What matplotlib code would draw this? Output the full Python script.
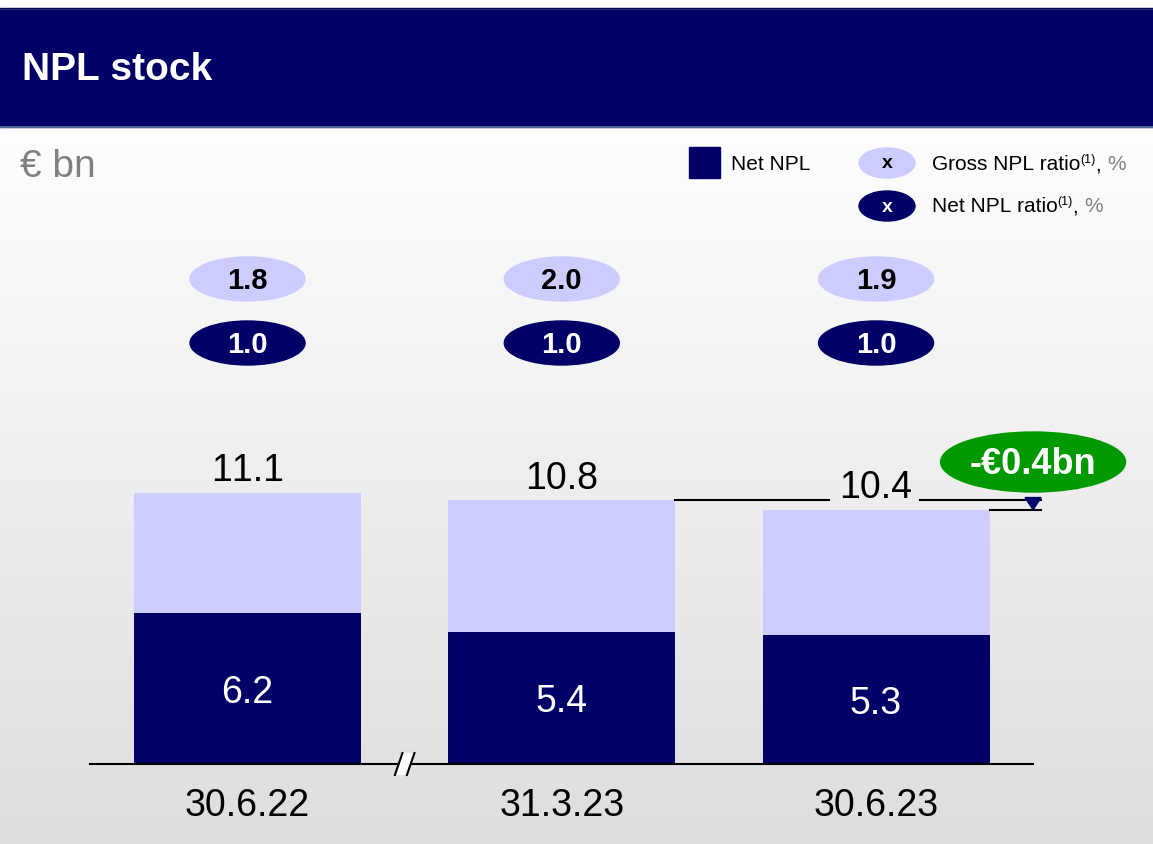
import numpy as np
import matplotlib
matplotlib.use("Agg")
import matplotlib.pyplot as plt
from matplotlib.patches import Ellipse, Rectangle, Polygon
from matplotlib.transforms import blended_transform_factory

plt.rcParams['font.family'] = ['Liberation Sans', 'DejaVu Sans']
plt.rcParams['text.kerning_factor'] = 10

# ---- data ----
categories = ["30.6.22", "31.3.23", "30.6.23"]
gross_npl = [11.1, 10.8, 10.4]
net_npl = [6.2, 5.4, 5.3]
gross_ratio = ["1.8", "2.0", "1.9"]
net_ratio = ["1.0", "1.0", "1.0"]
delta_label = "-€0.4bn"
title = "NPL stock"
unit = "€ bn"

NAVY = "#000066"
LIGHT = "#ccccff"
GREEN = "#009900"

W, H = 1153, 844
fig = plt.figure(figsize=(W / 100, H / 100), dpi=100)

# background gradient
bg = fig.add_axes([0, 0, 1, 1])
bg.set_xlim(0, W)
bg.set_ylim(H, 0)
bg.axis('off')
grad = np.linspace(1.0, 0.0, 256).reshape(-1, 1)
top_c = np.array([0.995, 0.995, 0.995])
bot_c = np.array([0.87, 0.87, 0.87])
img = (grad[..., None] * top_c + (1 - grad[..., None]) * bot_c)
bg.imshow(img, extent=[0, W, H, 127], aspect='auto', zorder=0)
bg.add_patch(Rectangle((0, 0), W, 8, color='white', zorder=1))
bg.add_patch(Rectangle((0, 8), W, 119, color=NAVY, zorder=1))
bg.plot([0, W], [126.5, 126.5], color="#5a7aa0", lw=1.2, zorder=2)
bg.plot([0, W], [8.5, 8.5], color="#203060", lw=1.0, zorder=2)
bg.text(22, 70, title, color='white', fontsize=28, fontweight='bold', va='center', ha='left', zorder=3)
bg.text(20, 167, unit, color='#808080', fontsize=28, va='center', ha='left', zorder=3)

# legend
bg.add_patch(Rectangle((689, 147), 31, 31, color=NAVY, zorder=3))
bg.text(731, 164, "Net NPL", fontsize=15, va='center', ha='left', color='black', zorder=3)
bg.add_patch(Ellipse((887, 163), 56, 30, color=LIGHT, zorder=3))
bg.text(887, 164, "x", fontsize=14, fontweight='bold', va='center', ha='center', color='black', zorder=4)
bg.add_patch(Ellipse((887, 206), 56, 30, color=NAVY, zorder=3))
bg.text(887, 207, "x", fontsize=14, fontweight='bold', va='center', ha='center', color='white', zorder=4)

fig.canvas.draw()
renderer = fig.canvas.get_renderer()


def rich_label(x, y, base):
    t1 = bg.text(x, y, base, fontsize=15, va='center', ha='left', color='black', zorder=3)
    ext = t1.get_window_extent(renderer)
    x2 = x + ext.width
    t2 = bg.text(x2, y - 5, "(1)", fontsize=9, va='center', ha='left', color='black', zorder=3)
    ext2 = t2.get_window_extent(renderer)
    x3 = x2 + ext2.width
    t3 = bg.text(x3, y, ", ", fontsize=15, va='center', ha='left', color='black', zorder=3)
    ext3 = t3.get_window_extent(renderer)
    bg.text(x3 + ext3.width, y, "%", fontsize=15, va='center', ha='left', color='#808080', zorder=3)


rich_label(932, 165, "Gross NPL ratio")
rich_label(932, 207, "Net NPL ratio")

# ---- main bar axes ----
px_per_unit = 24.4
ax_left, ax_right = 90.4, 1033.2
ax_bottom = 764
ymax = 20
ax_h = ymax * px_per_unit
ax = fig.add_axes([ax_left / W, 1 - ax_bottom / H, (ax_right - ax_left) / W, ax_h / H])
ax.set_xlim(-0.5, 2.5)
ax.set_ylim(0, ymax)
ax.patch.set_alpha(0)
for s in ax.spines.values():
    s.set_visible(False)
ax.set_xticks([])
ax.set_yticks([])

x = np.arange(len(categories))
bw = 0.722
gross_rest = [g - n for g, n in zip(gross_npl, net_npl)]
ax.bar(x, net_npl, width=bw, color=NAVY, zorder=2)
ax.bar(x, gross_rest, bottom=net_npl, width=bw, color=LIGHT, zorder=2)
ax.axhline(0, color='black', lw=1.5, zorder=3, clip_on=False)

for i in x:
    ax.annotate(f"{gross_npl[i]:.1f}", (i, gross_npl[i]), xytext=(0, 8.5), textcoords='offset points',
                ha='center', va='baseline', fontsize=27, color='black', zorder=4)
    ax.annotate(f"{net_npl[i]:.1f}", (i, net_npl[i] / 2), xytext=(0, -3), textcoords='offset points',
                ha='center', va='center', fontsize=27, color='white', zorder=4)
    ax.annotate(categories[i], (i, 0), xytext=(0, -30), textcoords='offset points',
                ha='center', va='center', fontsize=27, color='black', annotation_clip=False)

# ratio ellipses (x in data, y in figure fraction)
bt = blended_transform_factory(ax.transData, fig.transFigure)
ew = 115 / 314.25
for i in x:
    ax.add_patch(Ellipse((i, 1 - 279 / H), ew, 44 / H, transform=bt, color=LIGHT, clip_on=False, zorder=3))
    ax.text(i, 1 - 281 / H, gross_ratio[i], transform=bt, ha='center', va='center', fontsize=21,
            fontweight='bold', color='black', zorder=4)
    ax.add_patch(Ellipse((i, 1 - 343 / H), ew, 44 / H, transform=bt, color=NAVY, clip_on=False, zorder=3))
    ax.text(i, 1 - 345 / H, net_ratio[i], transform=bt, ha='center', va='center', fontsize=21,
            fontweight='bold', color='white', zorder=4)

# axis break mark between first and second bar
bx = (0 + bw / 2 + 1 - bw / 2) / 2
dx = 6 / 314.25
dy = 0.45
brk = Polygon([[bx - dx - 0.012, -dy], [bx - dx + 0.012, dy], [bx + dx + 0.012, dy], [bx + dx - 0.012, -dy]],
              closed=True, facecolor='white', edgecolor='none', zorder=4, clip_on=False)
ax.add_patch(brk)
ax.plot([bx - dx - 0.012, bx - dx + 0.012], [-dy, dy], color='black', lw=1.5, zorder=5, clip_on=False)
ax.plot([bx + dx - 0.012, bx + dx + 0.012], [-dy, dy], color='black', lw=1.5, zorder=5, clip_on=False)

# change bracket
xr2 = 1 + bw / 2
xr3 = 2 + bw / 2
xend = 2 + (1041 - 876) / 314.25
xarr = 2 + (1033 - 876) / 314.25
gap_l = 2 + (829 - 876) / 314.25
gap_r = 2 + (920 - 876) / 314.25
ax.plot([xr2, gap_l], [gross_npl[1], gross_npl[1]], color='black', lw=1.5, zorder=3, clip_on=False)
ax.plot([gap_r, xend], [gross_npl[1], gross_npl[1]], color='black', lw=1.5, zorder=3, clip_on=False)
ax.plot([xr3, xend], [gross_npl[2], gross_npl[2]], color='black', lw=1.5, zorder=3, clip_on=False)
tw = 8 / 314.25
ax.add_patch(Polygon([[xarr - tw, gross_npl[1] + 0.12], [xarr + tw, gross_npl[1] + 0.12],
                      [xarr, gross_npl[2] + 0.02]], closed=True, color=NAVY, zorder=4, clip_on=False))
ax.add_patch(Ellipse((xarr, 1 - 462 / H), 185 / 314.25, 60 / H, transform=bt, color=GREEN,
                     clip_on=False, zorder=5))
ax.text(xarr, 1 - 464 / H, delta_label, transform=bt, ha='center', va='center', fontsize=26,
        fontweight='bold', color='white', zorder=6)

fig.savefig("out.png", dpi=100)
